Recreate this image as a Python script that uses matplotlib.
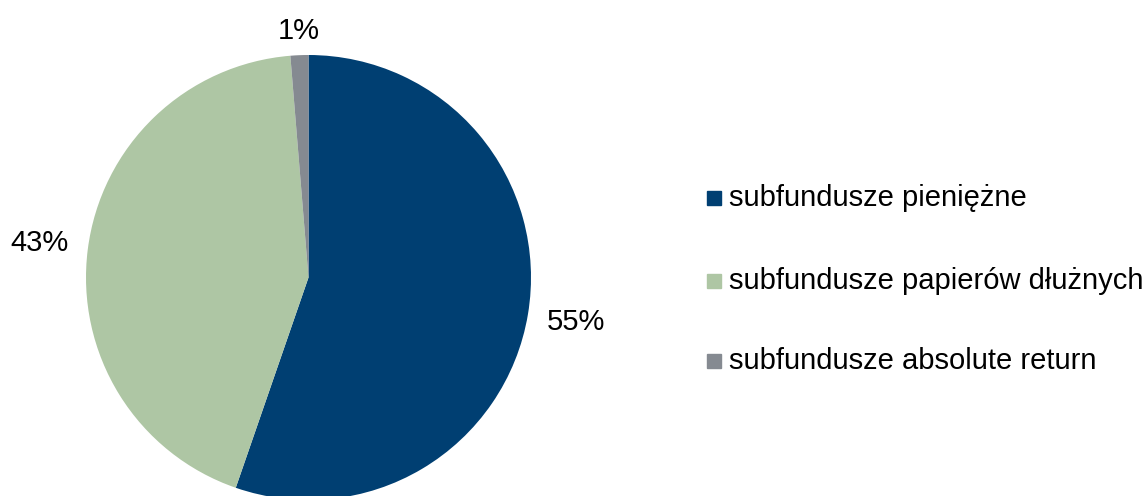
import matplotlib
matplotlib.use("Agg")
import matplotlib.pyplot as plt
import numpy as np

categories = ["subfundusze pieniężne", "subfundusze papierów dłużnych", "subfundusze absolute return"]
values = [55.3, 43.4, 1.3]
labels = ["55%", "43%", "1%"]
colors = ["#003F72", "#AEC6A4", "#858A91"]

plt.rcParams['font.family'] = ['Liberation Sans', 'DejaVu Sans']

W, H = 1148, 496
fig = plt.figure(figsize=(W / 100, H / 100), dpi=100)

cx, cy, r = 308.5, 277.5, 222.5
ax = fig.add_axes([(cx - r) / W, (H - cy - r) / H, 2 * r / W, 2 * r / H])
wedges, _ = ax.pie(values, colors=colors, startangle=90, counterclock=False,
                   radius=1.0, wedgeprops=dict(linewidth=0))
ax.set_xlim(-1, 1)
ax.set_ylim(-1, 1)
ax.axis('off')

label_dist = [1.22, 1.22, 1.11]
for w, lab, d in zip(wedges, labels, label_dist):
    ang = np.deg2rad((w.theta1 + w.theta2) / 2)
    ax.text(d * np.cos(ang), d * np.sin(ang), lab, ha='center', va='center',
            fontsize=21, color='black', clip_on=False)

# legend
rows_y = [198, 281, 361]
for cat, col, y in zip(categories, colors, rows_y):
    fig.patches.append(plt.Rectangle((707 / W, (H - y - 7) / H), 14 / W, 14 / H,
                                     transform=fig.transFigure, color=col, figure=fig))
    fig.text(729 / W, (H - y) / H, cat, ha='left', va='center', fontsize=21, color='black')

fig.savefig("out.png", dpi=100)
